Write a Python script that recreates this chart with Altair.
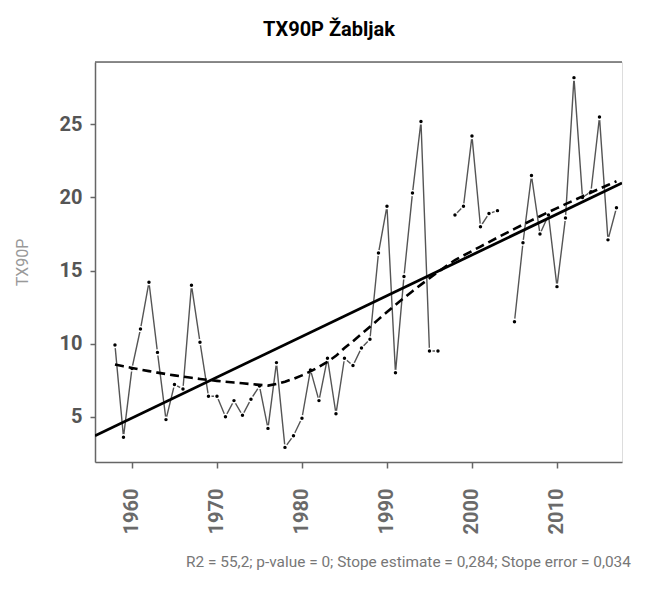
import altair as alt
import pandas as pd

# TX90P index for Žabljak, yearly values (None = missing year)
years = list(range(1958, 2018))
values = [
    9.9, 3.6, 8.3, 11.0, 14.2, 9.4, 4.8, 7.2, 6.9, 14.0,
    10.1, 6.4, 6.4, 5.0, 6.1, 5.1, 6.2, 7.1, 4.2, 8.7,
    2.9, 3.7, 4.9, 8.2, 6.1, 9.0, 5.2, 9.0, 8.5, 9.7,
    10.3, 16.2, 19.4, 8.0, 14.6, 20.3, 25.2, 9.5, 9.5, None,
    18.8, 19.4, 24.2, 18.0, 18.9, 19.1, None, 11.5, 16.9, 21.5,
    17.5, 18.8, 13.9, 18.6, 28.2, 20.0, 20.4, 25.5, 17.1, 19.3,
]
x_ticks = [1960, 1970, 1980, 1990, 2000, 2010]
y_ticks = [5, 10, 15, 20, 25]
stats_text = "R2 = 55,2; p-value = 0; Stope estimate = 0,284; Stope error = 0,034"

df = pd.DataFrame({"year": years, "value": values})
# contiguous runs of data, so the line breaks across missing years
seg, run = [], 0
for v in values:
    if v is None:
        run += 1
    seg.append(run)
df["segment"] = seg
obs = df.dropna().reset_index(drop=True)

X_DOMAIN = [1955.65, 2017.65]
W, H = 527, 400
FONT = "Roboto"

x_scale = alt.Scale(domain=X_DOMAIN, nice=False, zero=False)
y_scale = alt.Scale(domain=[1.9, 29.27], nice=False, zero=False)

x_axis = alt.Axis(
    values=x_ticks, format="d", grid=False,
    labelAngle=-90, labelAlign="right", labelBaseline="middle",
    labelFont=FONT, labelFontSize=20, labelFontWeight="bold", labelColor="#6a6a6a",
    labelPadding=20, tickSize=6, tickWidth=1.5, tickColor="#666",
    domainColor="#666", domainWidth=1.5,
    title=stats_text, titleFont=FONT, titleFontSize=15.4, titleFontWeight="normal",
    titleColor="#777", titleX=313, titleY=104, titleAlign="center",
    titleBaseline="alphabetic",
)
y_axis = alt.Axis(
    values=y_ticks, grid=False,
    labelFont=FONT, labelFontSize=20, labelFontWeight="bold", labelColor="#555",
    labelPadding=8, tickSize=5, tickWidth=1.5, tickColor="#666",
    domainColor="#666", domainWidth=1.5,
    title="TX90P", titleFont=FONT, titleFontSize=16, titleFontWeight="normal",
    titleColor="#999", titleX=-73, titleY=200, titleAngle=-90,
    titleAlign="center", titleBaseline="middle",
)

X = alt.X("year:Q", scale=x_scale, axis=x_axis)
Y = alt.Y("value:Q", scale=y_scale, axis=y_axis)
Xp = alt.X("year:Q", scale=x_scale)
Yp = alt.Y("value:Q", scale=y_scale)

base = alt.Chart(obs)

series = base.mark_line(color="#555", strokeWidth=1.4).encode(
    x=X, y=Y, detail="segment:N"
)
gaps = base.mark_circle(color="white", opacity=1, size=38).encode(x=Xp, y=Yp)
dots = base.mark_circle(color="black", opacity=1, size=12).encode(x=Xp, y=Yp)

trend = (
    base.transform_regression("year", "value", extent=X_DOMAIN)
    .mark_line(color="black", strokeWidth=2.8, clip=True)
    .encode(x=Xp, y=Yp)
)
smooth = (
    base.transform_loess("year", "value", bandwidth=0.6667)
    .mark_line(color="black", strokeWidth=2.6, strokeDash=[9, 5])
    .encode(x=Xp, y=Yp)
)

top_edge = alt.Chart(pd.DataFrame({"k": [0]})).mark_rule(
    color="#666", strokeWidth=1.5
).encode(x=alt.value(0), x2=alt.value(W), y=alt.value(0))

chart = alt.layer(series, gaps, dots, trend, smooth, top_edge).properties(
    width=W,
    height=H,
    title=alt.TitleParams(
        "TX90P Žabljak", font=FONT, fontSize=20, fontWeight="bold",
        color="black", anchor="middle", frame="group", dx=-29.5, offset=21,
    ),
    padding={"left": 95, "top": 62, "right": 36, "bottom": 133},
    autosize=alt.AutoSizeParams(type="none"),
).configure_view(stroke=None).configure(background="white")

chart.save("out.html", embed_options={"renderer": "svg", "actions": False})
